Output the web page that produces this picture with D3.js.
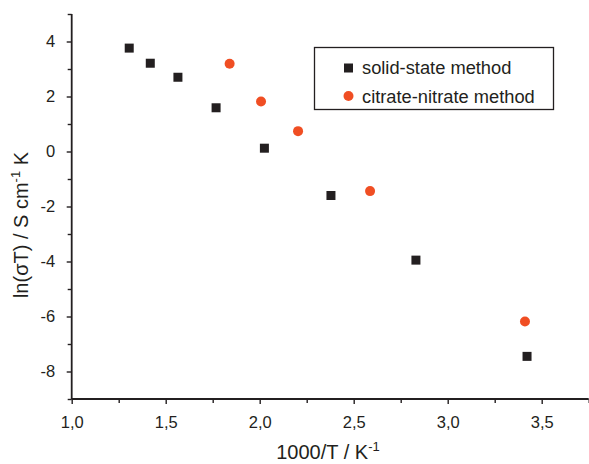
<!DOCTYPE html>
<html><head><meta charset="utf-8">
<script src="https://cdn.jsdelivr.net/npm/d3@7"></script>
<style>body{margin:0;background:#fff}svg{display:block}text{font-family:"Liberation Sans",Arial,sans-serif;fill:#231f20}</style>
</head><body><svg id="c" width="589" height="464"></svg>
<script>
const solidX = [1.306, 1.418, 1.565, 1.768, 2.025, 2.379, 2.831, 3.422];
const solidY = [3.76, 3.21, 2.70, 1.59, 0.12, -1.60, -3.95, -7.45];
const citrateX = [1.840, 2.007, 2.204, 2.587, 3.411];
const citrateY = [3.19, 1.82, 0.74, -1.44, -6.18];
const xTicks = [1.0, 1.5, 2.0, 2.5, 3.0, 3.5];
const yTicks = [-8, -6, -4, -2, 0, 2, 4];
const seriesNames = ["solid-state method", "citrate-nitrate method"];

const svg = d3.select("#c");
const x = d3.scaleLinear().domain([1, 3.75]).range([71.7, 588.7]);
const y = d3.scaleLinear().domain([-9, 5]).range([399, 14]);
const ink = "#231f20", orange = "#f04e23";
const fmt = d => d3.format(".1f")(d).replace(".", ",");

const xa = svg.append("g").attr("transform", "translate(0,399)")
  .call(d3.axisBottom(x).tickValues(d3.range(1, 3.76, 0.25)).tickSize(5).tickFormat(d => xTicks.some(t => Math.abs(t - d) < 1e-6) ? fmt(d) : ""));
xa.selectAll(".tick line").attr("stroke", ink).attr("stroke-width", 1.4);
xa.selectAll(".tick").filter(d => !xTicks.some(t => Math.abs(t - d) < 1e-6)).select("line").attr("y2", 4);
xa.select(".domain").attr("stroke", ink).attr("stroke-width", 1.8).attr("d", "M71.7,0H588.7");
xa.selectAll("text").attr("font-size", 16.5).attr("dy", "0.71em").attr("y", 17.5).style("fill", ink);

const ya = svg.append("g").attr("transform", "translate(71.7,0)")
  .call(d3.axisLeft(y).tickValues(d3.range(-9, 5.01, 1)).tickSize(5).tickFormat(d => yTicks.includes(d) ? d3.format("d")(d).replace("−", "-") : ""));
ya.selectAll(".tick line").attr("stroke", ink).attr("stroke-width", 1.4);
ya.selectAll(".tick").filter(d => !yTicks.includes(d)).select("line").attr("x2", -4);
ya.select(".domain").attr("stroke", ink).attr("stroke-width", 1.8).attr("d", "M0,14V399");
ya.selectAll("text").attr("font-size", 16.5).attr("x", -16.5).style("fill", ink);

svg.append("g").selectAll("rect").data(solidX.map((v, i) => [v, solidY[i]])).join("rect")
  .attr("x", d => x(d[0]) - 4.5).attr("y", d => y(d[1]) - 4.5).attr("width", 9).attr("height", 9).attr("fill", ink);
svg.append("g").selectAll("circle").data(citrateX.map((v, i) => [v, citrateY[i]])).join("circle")
  .attr("cx", d => x(d[0])).attr("cy", d => y(d[1])).attr("r", 5).attr("fill", orange);

// legend
const lg = svg.append("g");
lg.append("rect").attr("x", 314.5).attr("y", 47.5).attr("width", 239).attr("height", 62).attr("fill", "#fff").attr("stroke", ink).attr("stroke-width", 1.3);
lg.append("rect").attr("x", 344).attr("y", 63.5).attr("width", 9).attr("height", 9).attr("fill", ink);
lg.append("circle").attr("cx", 348.5).attr("cy", 96).attr("r", 5).attr("fill", orange);
lg.append("text").attr("x", 362).attr("y", 74).attr("font-size", 18.3).text(seriesNames[0]);
lg.append("text").attr("x", 362).attr("y", 102.5).attr("font-size", 18.3).text(seriesNames[1]);

// axis titles
const xt = svg.append("text").attr("x", 328).attr("y", 459).attr("text-anchor", "middle").attr("font-size", 20);
xt.append("tspan").text("1000/T / K");
xt.append("tspan").attr("font-size", 13).attr("dy", -8).text("-1");

const yt = svg.append("text").attr("transform", "translate(28,225) rotate(-90)").attr("text-anchor", "middle").attr("font-size", 20);
yt.append("tspan").text("ln(σT) / S cm");
yt.append("tspan").attr("font-size", 13).attr("dy", -8).text("-1");
yt.append("tspan").attr("dy", 8).text(" K");
</script></body></html>
